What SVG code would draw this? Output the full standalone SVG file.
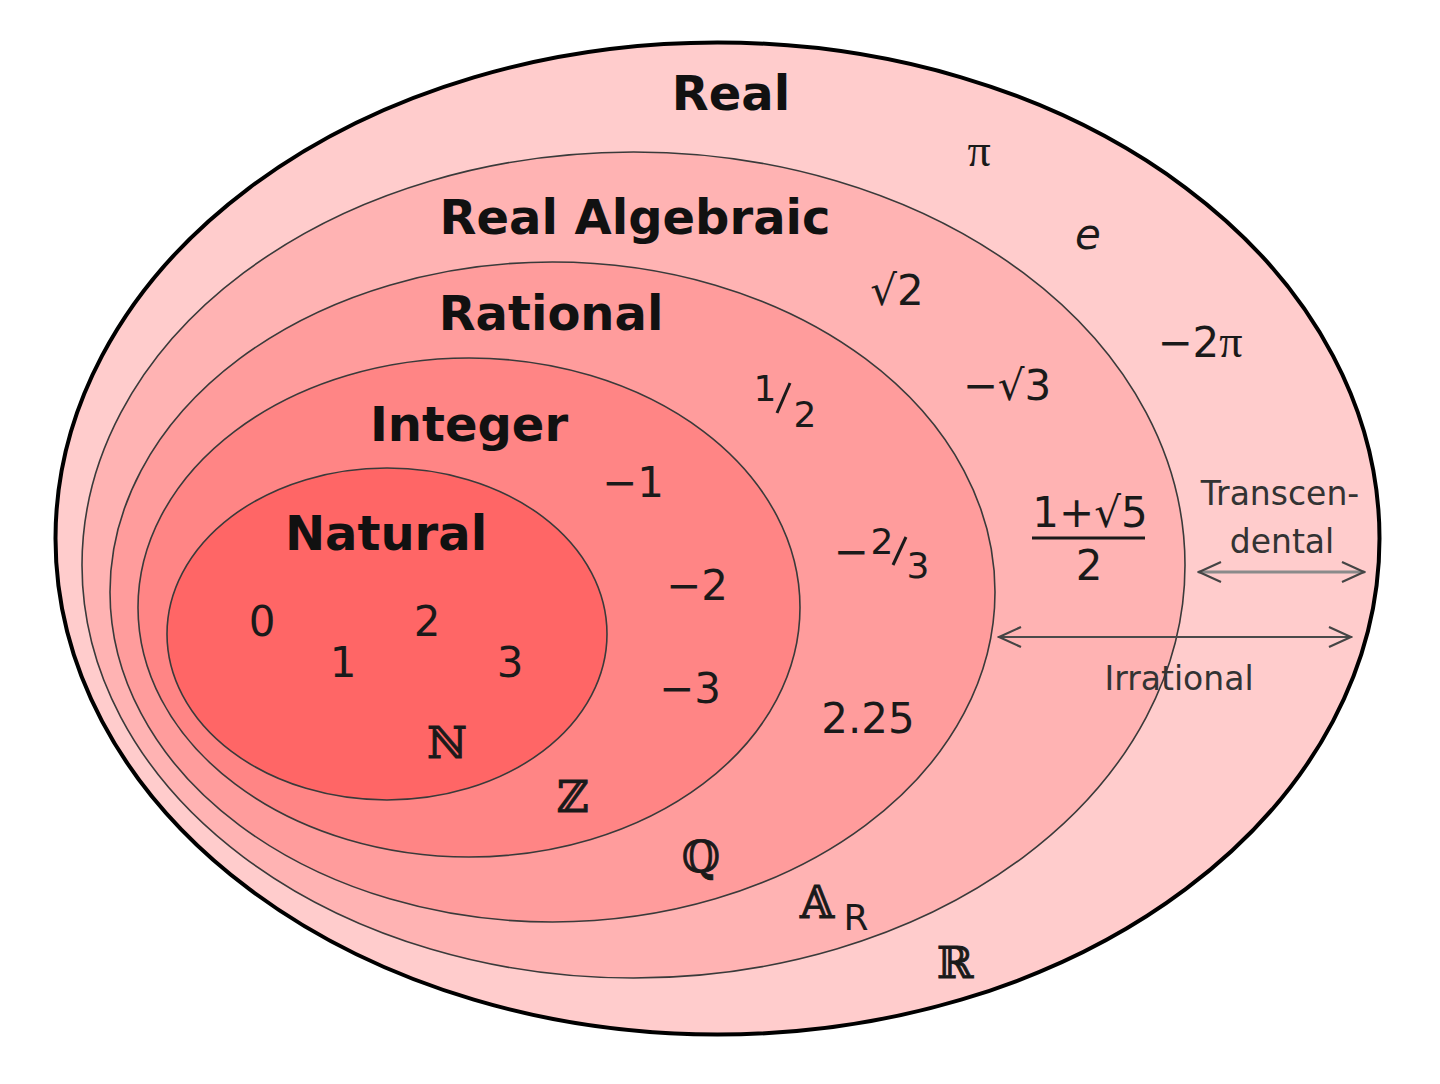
<svg xmlns="http://www.w3.org/2000/svg" width="1440" height="1084" viewBox="0 0 1440 1084">
<style>
.set{stroke:#3a3a3a;stroke-width:1.6}
.lbl{font-family:"DejaVu Sans","Liberation Sans",sans-serif;font-weight:bold;font-size:48px;fill:#111;text-anchor:middle}
.num{font-family:"DejaVu Sans","Liberation Sans",sans-serif;font-size:42px;fill:#1a1a1a;text-anchor:middle}
.frac{font-family:"DejaVu Sans","Liberation Sans",sans-serif;font-size:36px;fill:#1a1a1a;text-anchor:middle}
.sym{font-family:"DejaVu Serif","DejaVu Sans",serif;font-size:44px;fill:#1a1a1a;stroke:#1a1a1a;stroke-width:0.9;text-anchor:middle}
.pi{font-family:"Liberation Serif","DejaVu Serif",serif;font-size:46px;fill:#1a1a1a}
.it{font-family:"DejaVu Sans","Liberation Sans",sans-serif;font-style:italic;font-size:42px;fill:#1a1a1a;text-anchor:middle}
.note{font-family:"DejaVu Sans","Liberation Sans",sans-serif;font-size:33px;fill:#333;text-anchor:middle}
.arr{fill:none;stroke-linecap:round}
</style>
<defs>
<marker id="chev" viewBox="-26 -12 28 24" markerWidth="28" markerHeight="24" refX="0" refY="0" orient="auto-start-reverse" markerUnits="userSpaceOnUse">
<path d="M-22,-10 L0,0 L-22,10" fill="none" stroke="#444" stroke-width="2.2" stroke-linejoin="miter"/>
</marker>
</defs>
<rect width="1440" height="1084" fill="#ffffff"/>
<g id="real">
<ellipse cx="717.5" cy="538.5" rx="662" ry="496" fill="#ffcccc" stroke="#000" stroke-width="4"/>
<text class="lbl" x="731" y="110">Real</text>
<text class="pi" x="979" y="166" text-anchor="middle">π</text>
<text class="it" x="1088" y="249">e</text>
<text class="num" x="1200" y="357">−2<tspan class="pi">π</tspan></text>
<text class="sym" x="955" y="978">ℝ</text>
</g>
<g id="real-algebraic">
<ellipse class="set" cx="633.5" cy="565" rx="551.5" ry="413" fill="#ffb3b3"/>
<text class="lbl" x="635" y="234">Real Algebraic</text>
<text class="num" x="897" y="305">√2</text>
<text class="num" x="1007" y="400">−√3</text>
<text class="num" x="1090" y="527">1+√5</text>
<line x1="1032" y1="538" x2="1145" y2="538" stroke="#1a1a1a" stroke-width="3"/>
<text class="num" x="1089" y="580">2</text>
<text class="sym" x="817" y="918">𝔸</text>
<text class="frac" x="856" y="930">R</text>
</g>
<g id="rational">
<ellipse class="set" cx="552.5" cy="592" rx="442.5" ry="330" fill="#ff9c9c"/>
<text class="lbl" x="551" y="330">Rational</text>
<text class="frac" x="765" y="401">1</text>
<line x1="777" y1="413" x2="790" y2="383" stroke="#1a1a1a" stroke-width="3"/>
<text class="frac" x="805" y="427">2</text>
<text class="num" x="851" y="566">−</text>
<text class="frac" x="882" y="554">2</text>
<line x1="893" y1="565" x2="906" y2="537" stroke="#1a1a1a" stroke-width="3"/>
<text class="frac" x="918" y="578">3</text>
<text class="num" x="868" y="733">2.25</text>
<text class="sym" x="701" y="872">ℚ</text>
</g>
<g id="integer">
<ellipse class="set" cx="469" cy="607.5" rx="331" ry="249.5" fill="#ff8585"/>
<text class="lbl" x="469" y="441">Integer</text>
<text class="num" x="633" y="497">−1</text>
<text class="num" x="697" y="600">−2</text>
<text class="num" x="690" y="703">−3</text>
<text class="sym" x="573" y="812">ℤ</text>
</g>
<g id="natural">
<ellipse class="set" cx="387" cy="634" rx="220" ry="166" fill="#ff6666"/>
<text class="lbl" x="386" y="550">Natural</text>
<text class="num" x="262" y="636">0</text>
<text class="num" x="343" y="677">1</text>
<text class="num" x="427" y="636">2</text>
<text class="num" x="510" y="677">3</text>
<text class="sym" x="447" y="758">ℕ</text>
</g>
<g id="connectors">
<line class="arr" x1="1199" y1="572" x2="1364" y2="572" stroke="#8a8a8a" stroke-width="3" marker-start="url(#chev)" marker-end="url(#chev)"/>
<line class="arr" x1="999" y1="637" x2="1351" y2="637" stroke="#4a4a4a" stroke-width="2.2" marker-start="url(#chev)" marker-end="url(#chev)"/>
<text class="note" x="1280" y="505">Transcen-</text>
<text class="note" x="1282" y="553">dental</text>
<text class="note" x="1179" y="690">Irrational</text>
</g>
</svg>
